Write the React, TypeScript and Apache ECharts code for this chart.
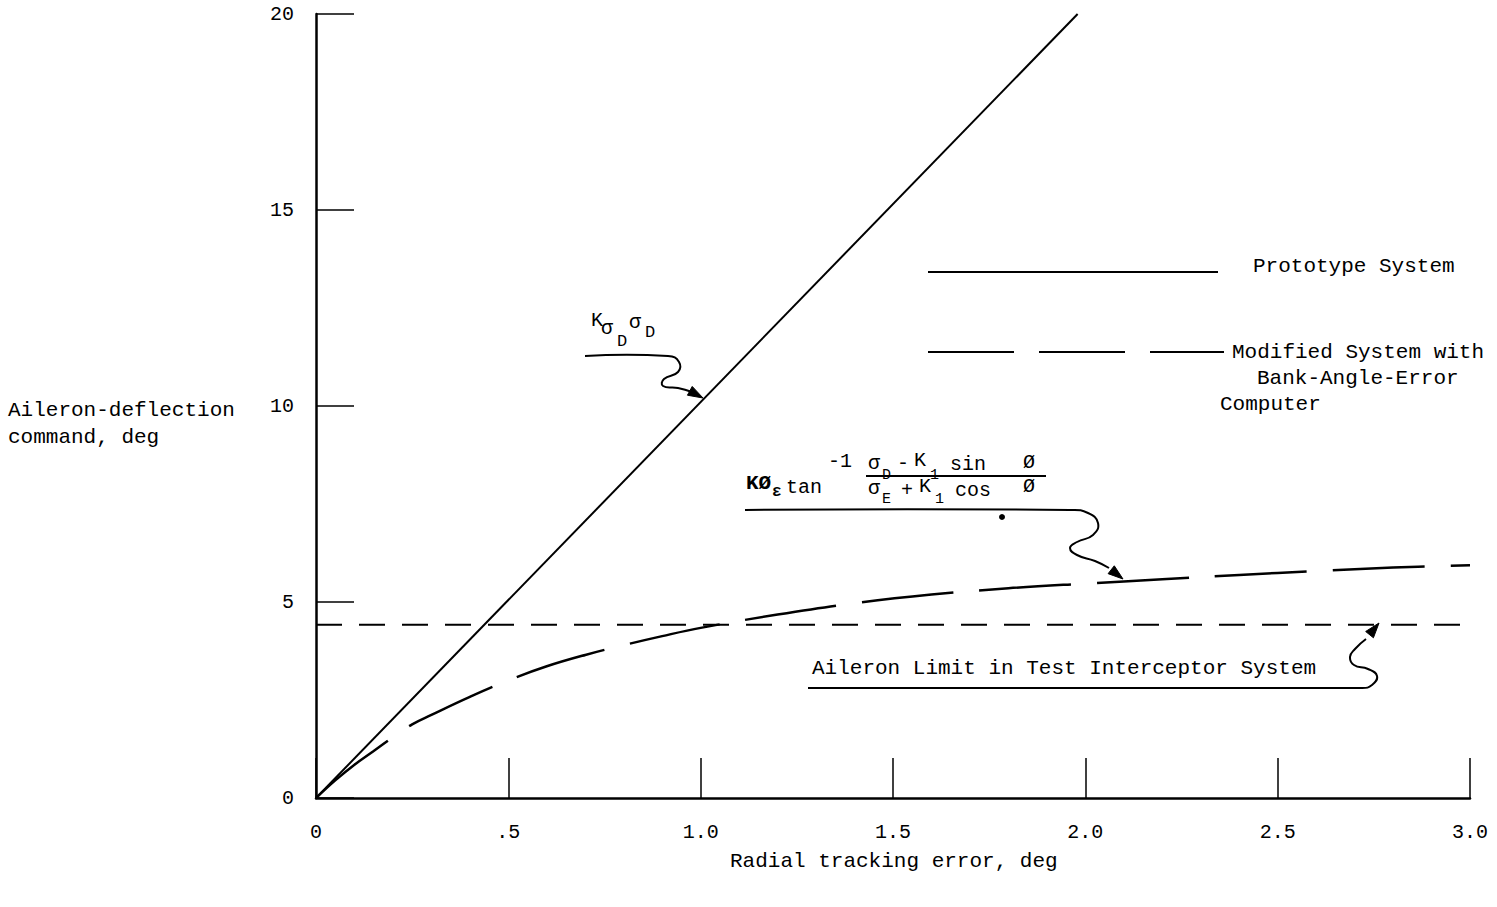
import React, { useEffect, useRef } from "react";
import * as echarts from "echarts";

// Axis ticks and labels
const xTicks = [0, 0.5, 1.0, 1.5, 2.0, 2.5, 3.0];
const xTickLabels = ["0", ".5", "1.0", "1.5", "2.0", "2.5", "3.0"];
const yTicks = [0, 5, 10, 15, 20];

// Prototype system: K_sigmaD * sigma_D (straight line)
const prototypeX = [0, 1.98];
const prototypeY = [0, 20];

// Modified system with bank-angle-error computer
const modifiedX = [0, 0.05, 0.1, 0.15, 0.2, 0.25, 0.3, 0.4, 0.5, 0.6, 0.7, 0.8, 0.9, 1.0, 1.2, 1.4, 1.6, 1.8, 2.0, 2.2, 2.4, 2.6, 2.8, 3.0];
const modifiedY = [0, 0.45, 0.85, 1.2, 1.55, 1.88, 2.12, 2.58, 3.0, 3.36, 3.65, 3.9, 4.13, 4.34, 4.68, 4.97, 5.19, 5.35, 5.47, 5.58, 5.69, 5.79, 5.88, 5.94];

// Aileron limit in test interceptor system
const limitX = [0, 3.0];
const limitY = [4.42, 4.42];

const FONT = "'Liberation Mono', 'Courier New', monospace";

function zip(xs: number[], ys: number[]) {
  return xs.map((x, i) => [x, ys[i]]);
}

function txt(text: string, x: number, y: number, size: number, bold = false, align = "left") {
  return {
    type: "text",
    x,
    y,
    silent: true,
    style: {
      text,
      font: `${bold ? "bold " : ""}${size}px ${FONT}`,
      fill: "#000",
      textAlign: align,
      align,
      textVerticalAlign: "middle",
      verticalAlign: "middle",
    },
  };
}

function wavy(points: number[][]) {
  return {
    type: "polyline",
    silent: true,
    shape: { points, smooth: 0.5 },
    style: { stroke: "#000", lineWidth: 2, fill: "none" },
  };
}

function arrowHead(tip: number[], from: number[], len = 15, half = 5) {
  const dx = tip[0] - from[0];
  const dy = tip[1] - from[1];
  const d = Math.hypot(dx, dy) || 1;
  const ux = dx / d;
  const uy = dy / d;
  const bx = tip[0] - ux * len;
  const by = tip[1] - uy * len;
  return {
    type: "polygon",
    silent: true,
    shape: {
      points: [tip, [bx - uy * half, by + ux * half], [bx + uy * half, by - ux * half]],
    },
    style: { fill: "#000", stroke: "#000", lineWidth: 1 },
  };
}

export default function App() {
  const ref = useRef<HTMLDivElement>(null);

  useEffect(() => {
    if (!ref.current) return;
    const chart = echarts.init(ref.current, null, { renderer: "svg" });

    const arrow1 = [[585, 356], [668, 356], [679, 362], [678, 372], [664, 379], [663, 386], [678, 388], [692, 392]];
    const arrow2 = [[745, 510], [1070, 510], [1088, 513], [1098, 523], [1093, 535], [1077, 542], [1070, 548], [1077, 555], [1095, 561], [1109, 568]];
    const arrow3 = [[808, 688], [1362, 688], [1372, 685], [1377, 676], [1368, 669], [1354, 665], [1350, 657], [1355, 649], [1366, 639]];

    const option = {
      animation: false,
      backgroundColor: "#fff",
      grid: { left: 316, top: 14, width: 1154, height: 784, containLabel: false },
      xAxis: {
        type: "value",
        min: 0,
        max: 3,
        interval: 0.5,
        axisLine: { show: true, onZero: false, lineStyle: { color: "#000", width: 2.5 } },
        axisTick: { show: true, inside: true, length: 40, lineStyle: { color: "#000", width: 1.5 } },
        splitLine: { show: false },
        axisLabel: {
          margin: 24,
          color: "#000",
          fontFamily: FONT,
          fontSize: 20,
          formatter: (v: number) => {
            const i = xTicks.findIndex((t) => Math.abs(t - v) < 1e-6);
            return i >= 0 ? xTickLabels[i] : "";
          },
        },
      },
      yAxis: {
        type: "value",
        min: 0,
        max: 20,
        interval: 5,
        axisLine: { show: true, onZero: false, lineStyle: { color: "#000", width: 2.5 } },
        axisTick: { show: true, inside: true, length: 38, lineStyle: { color: "#000", width: 1.5 } },
        splitLine: { show: false },
        axisLabel: {
          margin: 22,
          color: "#000",
          fontFamily: FONT,
          fontSize: 20,
          formatter: (v: number) => (yTicks.includes(v) ? String(v) : ""),
        },
      },
      series: [
        {
          name: "Prototype System",
          type: "line",
          data: zip(prototypeX, prototypeY),
          symbol: "none",
          lineStyle: { color: "#000", width: 2 },
          z: 3,
        },
        {
          name: "Modified System with Bank-Angle-Error Computer",
          type: "line",
          data: zip(modifiedX, modifiedY),
          smooth: 0.4,
          symbol: "none",
          lineStyle: { color: "#000", width: 2.5, type: [92, 26] },
          z: 3,
        },
        {
          name: "Aileron Limit in Test Interceptor System",
          type: "line",
          data: zip(limitX, limitY),
          symbol: "none",
          lineStyle: { color: "#000", width: 2, type: [26, 17] },
          z: 2,
        },
      ],
      graphic: [
        // axis titles
        txt("Aileron-deflection", 8, 410, 21),
        txt("command, deg", 8, 437, 21),
        txt("Radial tracking error, deg", 730, 861, 21),

        // key
        {
          type: "line",
          silent: true,
          shape: { x1: 928, y1: 272, x2: 1218, y2: 272 },
          style: { stroke: "#000", lineWidth: 2 },
        },
        txt("Prototype System", 1253, 266, 21),
        {
          type: "line",
          silent: true,
          shape: { x1: 928, y1: 352, x2: 1224, y2: 352 },
          style: { stroke: "#000", lineWidth: 2, lineDash: [86, 25] },
        },
        txt("Modified System with", 1232, 352, 21),
        txt("Bank-Angle-Error", 1257, 378, 21),
        txt("Computer", 1220, 404, 21),

        // K_sigmaD sigma_D label and arrow
        txt("K", 591, 320, 20),
        txt("σ", 601, 328, 20),
        txt("D", 617, 341, 17),
        txt("σ", 629, 322, 20),
        txt("D", 645, 332, 17),
        wavy(arrow1),
        arrowHead([703, 398], arrow1[arrow1.length - 1]),

        // bank-angle-error formula label and arrow
        txt("KØ", 746, 483, 21, true),
        txt("ε", 772, 492, 16, true),
        txt("tan", 786, 487, 20),
        txt("-1", 828, 461, 20),
        txt("σ", 868, 463, 20),
        txt("D", 882, 475, 15),
        txt("-", 897, 463, 20),
        txt("K", 914, 460, 20),
        txt("1", 930, 475, 15),
        txt("sin", 950, 464, 20),
        txt("Ø", 1023, 462, 20),
        {
          type: "line",
          silent: true,
          shape: { x1: 866, y1: 476, x2: 1046, y2: 476 },
          style: { stroke: "#000", lineWidth: 2 },
        },
        txt("σ", 868, 488, 20),
        txt("E", 882, 499, 15),
        txt("+", 901, 490, 20),
        txt("K", 919, 486, 20),
        txt("1", 935, 499, 15),
        txt("cos", 955, 490, 20),
        txt("Ø", 1023, 486, 20),
        { type: "circle", silent: true, shape: { cx: 1002, cy: 517, r: 3 }, style: { fill: "#000" } },
        wavy(arrow2),
        arrowHead([1123, 579], arrow2[arrow2.length - 1]),

        // aileron limit label and arrow
        txt("Aileron Limit in Test Interceptor System", 812, 668, 21),
        wavy(arrow3),
        arrowHead([1379, 623], arrow3[arrow3.length - 1]),
      ],
    };

    chart.setOption(option as any);
    return () => chart.dispose();
  }, []);

  return (
    <div
      ref={ref}
      style={{ position: "absolute", left: 0, top: 0, width: 1497, height: 907, background: "#fff" }}
    />
  );
}
